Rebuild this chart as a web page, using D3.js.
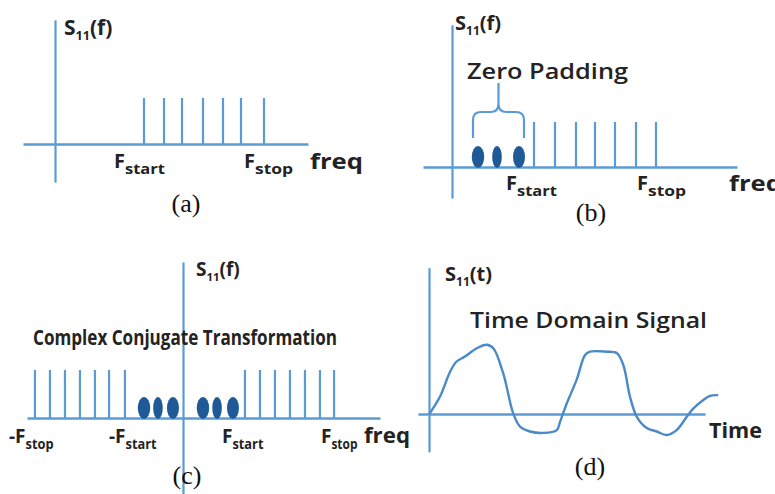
<!DOCTYPE html>
<html><head><meta charset="utf-8">
<script src="https://cdn.jsdelivr.net/npm/d3@7"></script>
<style>
html,body{margin:0;padding:0;background:#fff;}
svg{display:block;}
</style></head>
<body>
<svg id="c" width="775" height="494"></svg>
<script>
// ---------- data ----------
// panel (a): measured frequency samples (arbitrary freq units)
const stemsA = [4.45, 5.45, 6.35, 7.4, 8.4, 9.3, 10.45];
// panel (b): measured samples + zero padded samples
const stemsB = [4.1, 5.15, 6.2, 7.15, 8.15, 9.2, 10.2];
const padB = [1.3, 2.25, 3.35];
// panel (c): conjugate-mirrored samples and zero padding
const stemsCneg = [-9.87, -8.87, -7.87, -6.87, -5.87, -4.93, -3.87];
const stemsCpos = [4.13, 5.13, 6.13, 7.13, 8.13, 9.13, 10.07];
const padCneg = [-2.6, -1.67, -0.67];
const padCpos = [1.33, 2.27, 3.33];
// panel (d): time domain signal
const timeT = [0.1, 4.0, 7.6, 10.0, 13.0, 17.3, 20.9, 23.3, 26.9, 30.5, 33.0, 36.6, 41.4, 46.3, 47.5, 49.9, 53.5, 56.5, 58.3, 64.4, 68.0, 70.4, 72.8, 75.3, 78.9, 82.5, 86.1, 89.7, 93.4, 95.8, 99.4, 101.8, 104.8];
const timeV = [0, 0.25, 0.60, 0.75, 0.82, 0.94, 0.99, 0.94, 0.58, 0.01, -0.18, -0.25, -0.27, -0.23, -0.11, 0.15, 0.49, 0.84, 0.89, 0.89, 0.87, 0.70, 0.25, -0.04, -0.20, -0.25, -0.30, -0.23, -0.04, 0.08, 0.20, 0.26, 0.27];
const panelLabels = ["(a)", "(b)", "(c)", "(d)"];

// ---------- style ----------
const BLUE = "#5b9bd5";
const DOT = "#1f5a96";
const TXT = "#232323";
const SANS = "'Open Sans', Lato, sans-serif";
const SERIF = "'Liberation Serif', 'DejaVu Serif', serif";

const svg = d3.select("#c");

function makePanel(cfg) {
  const g = svg.append("g");
  const x = d3.scaleLinear().domain([0, 1]).range([cfg.x0, cfg.x0 + cfg.unit]);
  const y = d3.scaleLinear().domain([0, 1]).range([cfg.y0, cfg.y0 - cfg.amp]);
  const xa = d3.scaleLinear().domain(cfg.xDom).range(cfg.xDom.map(x));
  g.append("g").attr("transform", `translate(0,${y(0)})`)
    .call(d3.axisBottom(xa).tickValues([]).tickSizeOuter(0))
    .select(".domain").attr("stroke", BLUE).attr("stroke-width", 2.6);
  const ya = d3.scaleLinear().domain(cfg.yDom).range(cfg.yDom.map(y));
  g.append("g").attr("transform", `translate(${x(0)},0)`)
    .call(d3.axisLeft(ya).tickValues([]).tickSizeOuter(0))
    .select(".domain").attr("stroke", BLUE).attr("stroke-width", 2.2);
  return {g, x, y};
}

function stems(p, data) {
  p.g.selectAll(null).data(data).enter().append("line")
    .attr("x1", d => p.x(d)).attr("x2", d => p.x(d))
    .attr("y1", p.y(0)).attr("y2", p.y(1))
    .attr("stroke", BLUE).attr("stroke-width", 2.2);
}
function dots(p, data, ry) {
  const rxs = [6.2, 4.8, 6];
  p.g.selectAll(null).data(data).enter().append("ellipse")
    .attr("cx", d => p.x(d)).attr("cy", p.y(0) - ry + 1)
    .attr("rx", (d, i) => rxs[i % 3]).attr("ry", ry)
    .attr("fill", DOT);
}
function sLabel(g, xx, yy, arg, size) {
  const t = g.append("text").attr("x", xx).attr("y", yy)
    .attr("font-family", SANS).attr("font-weight", 700)
    .attr("font-size", size).attr("fill", TXT);
  t.append("tspan").text("S");
  t.append("tspan").attr("font-size", size * 0.6).attr("dy", 5).text("11");
  t.append("tspan").attr("dy", -5).text("(" + arg + ")");
}
function fLabel(g, xx, yy, main, sub, size, subLen) {
  const t = g.append("text").attr("x", xx).attr("y", yy)
    .attr("font-family", SANS).attr("font-weight", 700)
    .attr("font-size", size).attr("fill", TXT);
  t.append("tspan").text(main);
  const s = t.append("tspan").attr("font-size", size * 0.7).attr("dy", 6).text(sub);
  if (subLen) s.attr("textLength", subLen).attr("lengthAdjust", "spacingAndGlyphs");
}
function plain(g, xx, yy, str, size, weight, len, anchor) {
  const t = g.append("text").attr("x", xx).attr("y", yy)
    .attr("font-family", SANS).attr("font-weight", weight)
    .attr("font-size", size).attr("fill", TXT)
    .attr("text-anchor", anchor || "start").text(str);
  if (len) t.attr("textLength", len).attr("lengthAdjust", "spacingAndGlyphs");
  return t;
}
function caption(xx, yy, str) {
  svg.append("text").attr("x", xx).attr("y", yy).attr("text-anchor", "middle")
    .attr("font-family", SERIF).attr("font-size", 26).attr("fill", "#111").text(str);
}

// ---------- panel (a) ----------
const pa = makePanel({x0: 55, unit: 20, y0: 144, amp: 46, xDom: [-1.6, 12.65], yDom: [-0.83, 2.7]});
stems(pa, stemsA);
sLabel(pa.g, 64, 35, "f", 21);
fLabel(pa.g, 114, 168, "F", "start", 20, 40);
fLabel(pa.g, 244, 168, "F", "stop", 20, 38);
plain(pa.g, 310, 169, "freq", 22, 700, 53);
caption(186, 212, panelLabels[0]);

// ---------- panel (b) ----------
const pb = makePanel({x0: 452, unit: 20, y0: 167, amp: 45, xDom: [-1.45, 14.25], yDom: [-0.69, 3.16]});
stems(pb, stemsB);
dots(pb, padB, 11);
sLabel(pb.g, 455, 30, "f", 20);
plain(pb.g, 467, 79, "Zero Padding", 21, 600, 161);
// brace over zero padded samples
const bL = pb.x(padB[0]) - 5, bR = pb.x(padB[2]) + 5, bM = (bL + bR) / 2;
const bTop = 112, bBot = 138, bTip = 83, r = 8;
pb.g.append("path")
  .attr("d", `M${bL},${bBot} L${bL},${bTop + r} Q${bL},${bTop} ${bL + r},${bTop} L${bM - r},${bTop} Q${bM},${bTop} ${bM},${bTop - r} L${bM},${bTip}
              M${bM},${bTop - r} Q${bM},${bTop} ${bM + r},${bTop} L${bR - r},${bTop} Q${bR},${bTop} ${bR},${bTop + r} L${bR},${bBot}`)
  .attr("fill", "none").attr("stroke", BLUE).attr("stroke-width", 2.2);
fLabel(pb.g, 506, 190, "F", "start", 20, 40);
fLabel(pb.g, 637, 190, "F", "stop", 20, 38);
plain(pb.g, 729, 191, "freq", 22, 700, 53);
caption(591, 221, panelLabels[1]);

// ---------- panel (c) ----------
const pc = makePanel({x0: 183, unit: 15, y0: 418, amp: 48, xDom: [-10.4, 13.13], yDom: [-2.6, 3.25]});
stems(pc, stemsCneg);
stems(pc, stemsCpos);
dots(pc, padCneg, 11);
dots(pc, padCpos, 11);
sLabel(pc.g, 196, 276, "f", 19);
plain(pc.g, 33, 345, "Complex Conjugate Transformation", 22, 700, 304);
fLabel(pc.g, 9, 443, "-F", "stop", 19, 28);
fLabel(pc.g, 109, 443, "-F", "start", 19, 31);
fLabel(pc.g, 222, 443, "F", "start", 19, 31);
fLabel(pc.g, 321, 443, "F", "stop", 19, 26);
plain(pc.g, 364, 443, "freq", 21, 700, 46);
caption(187, 484, panelLabels[2]);

// ---------- panel (d) ----------
const xd = d3.scaleLinear().domain([0, 100]).range([429, 705]);
const yd = d3.scaleLinear().domain([0, 1]).range([414, 344]);
const gd = svg.append("g");
gd.append("g").attr("transform", `translate(0,${yd(0)})`)
  .call(d3.axisBottom(xd.copy().domain([-4, 100]).range([xd(-4), xd(100)])).tickValues([]).tickSizeOuter(0))
  .select(".domain").attr("stroke", BLUE).attr("stroke-width", 2.6);
gd.append("g").attr("transform", `translate(${xd(0)},0)`)
  .call(d3.axisLeft(yd.copy().domain([-0.54, 2.09]).range([yd(-0.54), yd(2.09)])).tickValues([]).tickSizeOuter(0))
  .select(".domain").attr("stroke", BLUE).attr("stroke-width", 2.2);
const pts = timeT.map((t, i) => [t, timeV[i]]);
gd.append("path").datum(pts)
  .attr("d", d3.line().x(d => xd(d[0])).y(d => yd(d[1])).curve(d3.curveCatmullRom))
  .attr("fill", "none").attr("stroke", "#4a8ac8").attr("stroke-width", 2.4)
  .attr("stroke-linejoin", "round");
sLabel(gd, 445, 281, "t", 20);
plain(gd, 470, 328, "Time Domain Signal", 22, 600, 237);
plain(gd, 709, 438, "Time", 22, 700, 53);
caption(590, 475, panelLabels[3]);
</script>
</body></html>
